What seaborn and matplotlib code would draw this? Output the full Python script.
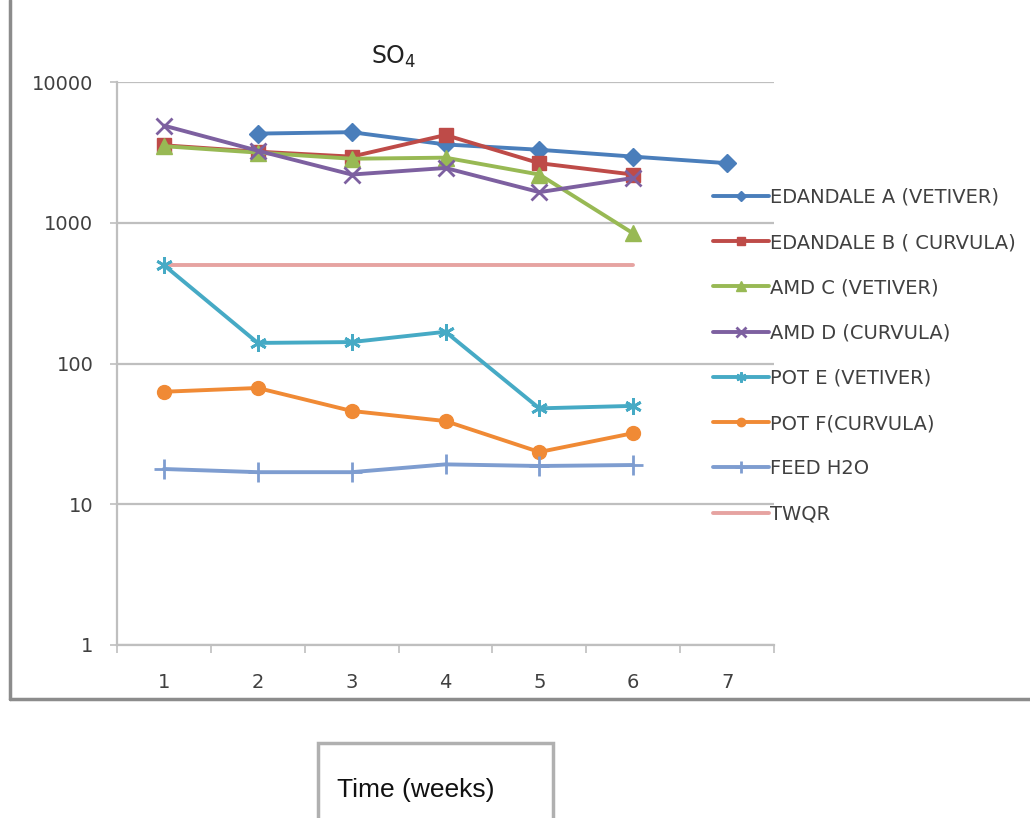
import numpy as np
import pandas as pd
import matplotlib
matplotlib.use("Agg")
import matplotlib.pyplot as plt
import seaborn as sns
from matplotlib.lines import Line2D
from matplotlib.patches import Rectangle

# SO4 concentration per week
weeks = [1, 2, 3, 4, 5, 6, 7]
edandale_a = [np.nan, 4300, 4400, 3600, 3300, 2950, 2650]
edandale_b = [3550, 3200, 2950, 4200, 2650, 2200, np.nan]
amd_c = [3500, 3150, 2850, 2900, 2200, 840, np.nan]
amd_d = [4900, 3250, 2200, 2450, 1650, 2080, np.nan]
pot_e = [500, 140, 142, 168, 48, 50, np.nan]
pot_f = [63, 67, 46, 39, 23.5, 32, np.nan]
feed_h2o = [17.8, 16.9, 16.9, 19.2, 18.7, 19.0, np.nan]
twqr = [500, 500, 500, 500, 500, 500, np.nan]

labels = ["EDANDALE A (VETIVER)", "EDANDALE B ( CURVULA)", "AMD C (VETIVER)",
          "AMD D (CURVULA)", "POT E (VETIVER)", "POT F(CURVULA)", "FEED H2O", "TWQR"]
values = [edandale_a, edandale_b, amd_c, amd_d, pot_e, pot_f, feed_h2o, twqr]
colors = ["#4A7EBB", "#BE4B48", "#98B954", "#7D60A0", "#46AAC5", "#F08A35", "#7E9DD0", "#E6A3A1"]
markers = ["D", "s", "^", "x", (6, 2, 0), "o", "+", None]
msizes = [9, 10, 11, 11, 12, 10, 14, 0]

sns.set_style("white")
plt.rcParams['font.family'] = ['DejaVu Sans']

fig = plt.figure(figsize=(10.3, 8.18), dpi=100)
W, H = 1030, 818
ax = fig.add_axes([117 / W, 1 - 645 / H, 657 / W, 563 / H])

for lab, vals, col, mk, ms in zip(labels, values, colors, markers, msizes):
    df = pd.DataFrame({"week": weeks, "so4": vals}).dropna()
    sns.lineplot(data=df, x="week", y="so4", ax=ax, color=col, lw=2.8,
                 marker=mk, markersize=ms, markeredgecolor=col,
                 markeredgewidth=2 if mk in ("x", "+", (6, 2, 0)) else 1,
                 label=lab, zorder=3 if lab != "TWQR" else 2)

ax.set_yscale("log")
ax.set_ylim(1, 10000)
ax.set_xlim(0.5, 7.5)
ax.set_yticks([1, 10, 100, 1000, 10000])
ax.set_yticklabels(["1", "10", "100", "1000", "10000"])
ax.minorticks_off()
ax.set_xticks(weeks)
ax.set_xticks(np.arange(0.5, 8, 1), minor=True)
ax.set_xticklabels([str(w) for w in weeks])
ax.set_xlabel("")
ax.set_ylabel("")

grid_col = "#BFBFBF"
ax.yaxis.grid(True, color=grid_col, lw=1.6)
ax.xaxis.grid(False)
for s in ["top", "right"]:
    ax.spines[s].set_visible(False)
for s in ["left", "bottom"]:
    ax.spines[s].set_color(grid_col)
    ax.spines[s].set_linewidth(1.6)
ax.tick_params(axis="y", which="major", length=5, width=1.2, color=grid_col,
               direction="out", left=True, pad=12, labelsize=14, labelcolor="#404040")
ax.tick_params(axis="x", which="major", length=0, pad=20, labelsize=14, labelcolor="#404040")
ax.tick_params(axis="x", which="minor", length=6, width=1.2, color=grid_col,
               direction="out", bottom=True)

# legend to the right, overlapping the plot edge
handles, labs = ax.get_legend_handles_labels()
ax.get_legend().remove()
fig.legend(handles, labs, loc="upper left", bbox_to_anchor=(705 / W, 1 - 180 / H),
           frameon=False, fontsize=14, labelspacing=1.35, handlelength=2.9,
           handletextpad=0.05, markerscale=0.6, labelcolor="#404040", borderaxespad=0)

fig.text(394 / W, 1 - 57 / H, "SO$_4$", ha="center", va="center", fontsize=17, color="#222222")

# outer chart border
fig.add_artist(Line2D([10 / W, 10 / W], [1.0, 1 - 699 / H], transform=fig.transFigure,
                      color="#8C8C8C", lw=2.5))
fig.add_artist(Line2D([10 / W, 1.0], [1 - 699 / H, 1 - 699 / H], transform=fig.transFigure,
                      color="#8C8C8C", lw=2.5))

# axis title box below the chart
fig.add_artist(Rectangle((318 / W, -0.05), 235 / W, 0.05 + 75 / H, transform=fig.transFigure,
                         fill=False, edgecolor="#B0B0B0", lw=2.5))
fig.text(337 / W, 1 - 797 / H, "Time (weeks)", ha="left", va="baseline", fontsize=19,
         color="#111111", family=["Liberation Sans", "DejaVu Sans"])

fig.savefig("out.png", dpi=100)
